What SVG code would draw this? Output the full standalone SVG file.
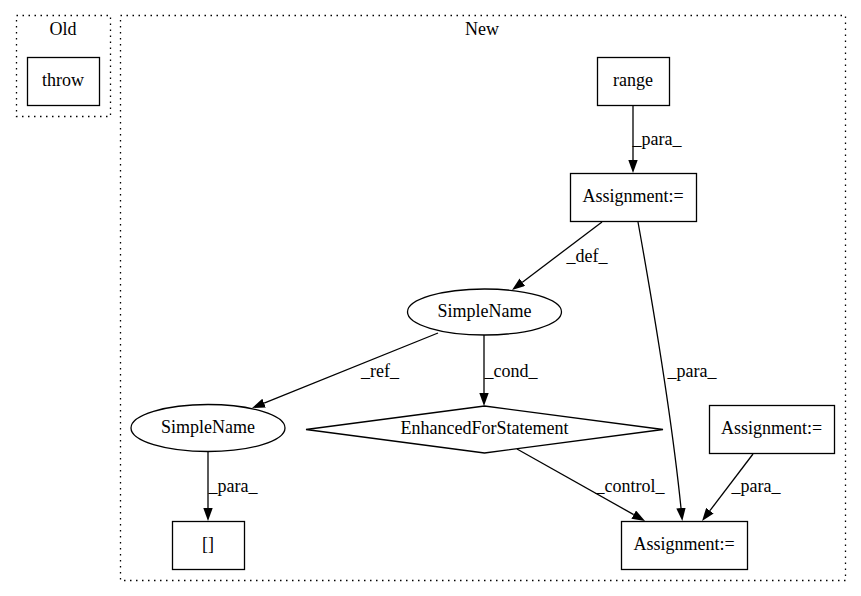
<svg xmlns="http://www.w3.org/2000/svg" width="861" height="596" viewBox="0 0 861 596" font-family="'Liberation Serif', 'Times New Roman', serif" font-size="18">
<style>
text{font-family:'Liberation Serif','Times New Roman',serif;font-size:18px;fill:#000}
.c{text-anchor:middle}
.cl{fill:none;stroke:#000;stroke-width:1.3;stroke-dasharray:1.5,4.5}
.n{fill:#fff;stroke:#000;stroke-width:1.3}
.e{fill:none;stroke:#000;stroke-width:1.3}
</style>
<defs>
<marker id="ah" viewBox="0 0 13 9.4" refX="0" refY="4.7" markerWidth="13" markerHeight="9.4" markerUnits="userSpaceOnUse" orient="auto">
<path d="M0,0 L13,4.7 L0,9.4 Z" fill="#000"/>
</marker>
</defs>
<rect width="861" height="596" fill="#fff"/>
<g id="cluster_old">
<rect class="cl" x="16.5" y="15.5" width="94" height="101"/>
<text class="c" x="63" y="35">Old</text>
</g>
<g id="cluster_new">
<rect class="cl" x="120.5" y="15.5" width="725" height="565"/>
<text class="c" x="482" y="35">New</text>
</g>
<g id="connectors">
<path class="e" d="M633,105 L633,160" marker-end="url(#ah)"/>
<text class="c" x="657" y="145">_para_</text>
<path class="e" d="M602,222 L522.4,282.2" marker-end="url(#ah)"/>
<text class="c" x="587" y="262">_def_</text>
<path class="e" d="M638,222 C652,300 672,420 681,508" marker-end="url(#ah)"/>
<text class="c" x="692" y="377">_para_</text>
<path class="e" d="M438,333 L264.1,403.1" marker-end="url(#ah)"/>
<text class="c" x="380" y="377">_ref_</text>
<path class="e" d="M484,335 L484,393" marker-end="url(#ah)"/>
<text class="c" x="511" y="377">_cond_</text>
<path class="e" d="M208,452 L208,508" marker-end="url(#ah)"/>
<text class="c" x="233" y="492">_para_</text>
<path class="e" d="M517,449 L633.7,514.6" marker-end="url(#ah)"/>
<text class="c" x="630" y="492">_control_</text>
<path class="e" d="M753,454 L709.9,510.7" marker-end="url(#ah)"/>
<text class="c" x="756" y="492">_para_</text>
</g>
<g id="throw">
<rect class="n" x="27.5" y="57.5" width="72" height="48"/>
<text class="c" x="63" y="86">throw</text>
</g>
<g id="range">
<rect class="n" x="597.5" y="57.5" width="72" height="48"/>
<text class="c" x="633" y="86">range</text>
</g>
<g id="assign_top">
<rect class="n" x="570.5" y="173.5" width="126" height="48"/>
<text class="c" x="633" y="202">Assignment:=</text>
</g>
<g id="simplename_top">
<ellipse class="n" cx="484.5" cy="312" rx="77" ry="23"/>
<text class="c" x="484.5" y="317">SimpleName</text>
</g>
<g id="simplename_left">
<ellipse class="n" cx="208" cy="428" rx="77" ry="23.5"/>
<text class="c" x="208" y="433">SimpleName</text>
</g>
<g id="enhanced_for">
<polygon class="n" points="484.5,406 663,429.5 484.5,453 306,429.5"/>
<text class="c" x="484.5" y="434">EnhancedForStatement</text>
</g>
<g id="index">
<rect class="n" x="172.5" y="521.5" width="72" height="48"/>
<text class="c" x="208" y="550">[]</text>
</g>
<g id="assign_right">
<rect class="n" x="709.5" y="405.5" width="125" height="48"/>
<text class="c" x="771.5" y="434">Assignment:=</text>
</g>
<g id="assign_bottom">
<rect class="n" x="621.5" y="521.5" width="126" height="48"/>
<text class="c" x="684" y="550">Assignment:=</text>
</g>
</svg>
